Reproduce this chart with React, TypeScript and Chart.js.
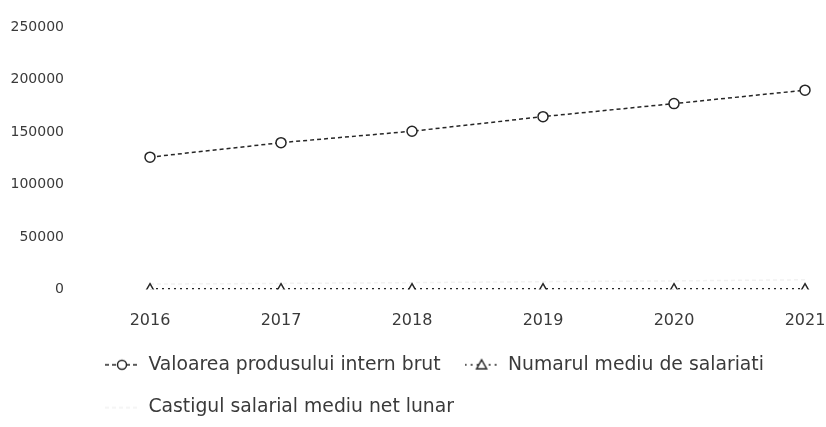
import React, { useEffect, useRef } from "react";
import { Chart, registerables } from "chart.js";

Chart.register(...registerables);

const years = ["2016", "2017", "2018", "2019", "2020", "2021"];
const pibValues = [126000, 139800, 150700, 164600, 177000, 189800];
const salariatiValues = [620, 625, 630, 640, 630, 640];
const castigValues = [5084, 5697, 6446, 7356, 8108, 9180];
const yTickValues = [0, 50000, 100000, 150000, 200000, 250000];
const seriesNames = [
  "Valoarea produsului intern brut",
  "Numarul mediu de salariati",
  "Castigul salarial mediu net lunar",
];

function legendImage(color: string, dash: number[], marker: string | null) {
  const c = document.createElement("canvas");
  c.width = 34;
  c.height = 14;
  const g = c.getContext("2d")!;
  g.strokeStyle = color;
  g.lineWidth = 1.5;
  g.setLineDash(dash);
  g.beginPath();
  g.moveTo(0, 7);
  g.lineTo(34, 7);
  g.stroke();
  g.setLineDash([]);
  g.fillStyle = "#ffffff";
  if (marker === "circle") {
    g.beginPath();
    g.arc(17, 7, 4.5, 0, Math.PI * 2);
    g.fill();
    g.stroke();
  } else if (marker === "triangle") {
    g.beginPath();
    g.moveTo(17, 2);
    g.lineTo(22, 11);
    g.lineTo(12, 11);
    g.closePath();
    g.fill();
    g.stroke();
  }
  return c;
}

const legendShift = {
  id: "legendShift",
  afterLayout(chart: any) {
    if (chart.legend) chart.legend.left = 81;
  },
};

export default function App() {
  const ref = useRef<HTMLCanvasElement | null>(null);

  useEffect(() => {
    if (!ref.current) return;
    const legendImgs = [
      legendImage("#262626", [4, 3], "circle"),
      legendImage("#262626", [2, 4], "triangle"),
      legendImage("#f2f2f2", [4, 3], null),
    ];
    const textColor = "#3a3a3a";
    const chart = new Chart(ref.current, {
      type: "line",
      data: {
        labels: years,
        datasets: [
          {
            label: seriesNames[0],
            data: pibValues,
            borderColor: "#262626",
            borderWidth: 1.5,
            borderDash: [4, 3],
            pointStyle: "circle",
            pointRadius: 5,
            pointBorderWidth: 1.5,
            pointBackgroundColor: "#ffffff",
            pointBorderColor: "#262626",
            fill: false,
            tension: 0,
          },
          {
            label: seriesNames[1],
            data: salariatiValues,
            borderColor: "#262626",
            borderWidth: 1.5,
            borderDash: [2, 4],
            pointStyle: "triangle",
            pointRadius: 5,
            pointBorderWidth: 1.5,
            pointBackgroundColor: "#ffffff",
            pointBorderColor: "#262626",
            fill: false,
            tension: 0,
          },
          {
            label: seriesNames[2],
            data: castigValues,
            borderColor: "#f2f2f2",
            borderWidth: 1.5,
            borderDash: [4, 3],
            pointRadius: 0,
            fill: false,
            tension: 0,
          },
        ],
      },
      options: {
        responsive: false,
        animation: false,
        devicePixelRatio: 1,
        layout: { padding: { left: 8, right: 21, top: 27, bottom: 0 } },
        scales: {
          x: {
            type: "category",
            offset: false,
            grid: { display: false, drawTicks: false },
            border: { display: false },
            ticks: {
              padding: 22,
              color: textColor,
              font: { family: "'DejaVu Sans'", size: 16 },
              maxRotation: 0,
              autoSkip: false,
            },
            afterFit: (scale: any) => {
              scale.height = 42;
              scale.paddingLeft = 20;
              scale.paddingRight = 20;
            },
          },
          y: {
            min: 0,
            max: 250000,
            grid: { display: false, drawTicks: false },
            border: { display: false },
            afterBuildTicks: (scale: any) => {
              scale.ticks = yTickValues.map((v) => ({ value: v }));
            },
            ticks: {
              padding: 86,
              autoSkip: false,
              color: textColor,
              font: { family: "'DejaVu Sans'", size: 14 },
              callback: (v: any) => String(v),
            },
            afterFit: (scale: any) => {
              scale.width = 150 - 8;
              scale.paddingTop = 8;
              scale.paddingBottom = 8;
            },
          },
        },
        plugins: {
          tooltip: { enabled: false },
          legend: {
            position: "bottom",
            align: "start",
            labels: {
              usePointStyle: true,
              pointStyleWidth: 34,
              padding: 24,
              color: textColor,
              font: { family: "'DejaVu Sans'", size: 18.8 },
              generateLabels: (ch: any) =>
                Chart.defaults.plugins.legend.labels
                  .generateLabels(ch)
                  .map((l: any, i: number) => ({ ...l, pointStyle: legendImgs[i] })),
            },
          },
        },
      },
      plugins: [legendShift],
    } as any);
    return () => chart.destroy();
  }, []);

  return (
    <div style={{ position: "absolute", left: 0, top: 0, width: 826, height: 427, background: "#ffffff" }}>
      <canvas ref={ref} width={826} height={427} style={{ width: 826, height: 427, display: "block" }} />
    </div>
  );
}
